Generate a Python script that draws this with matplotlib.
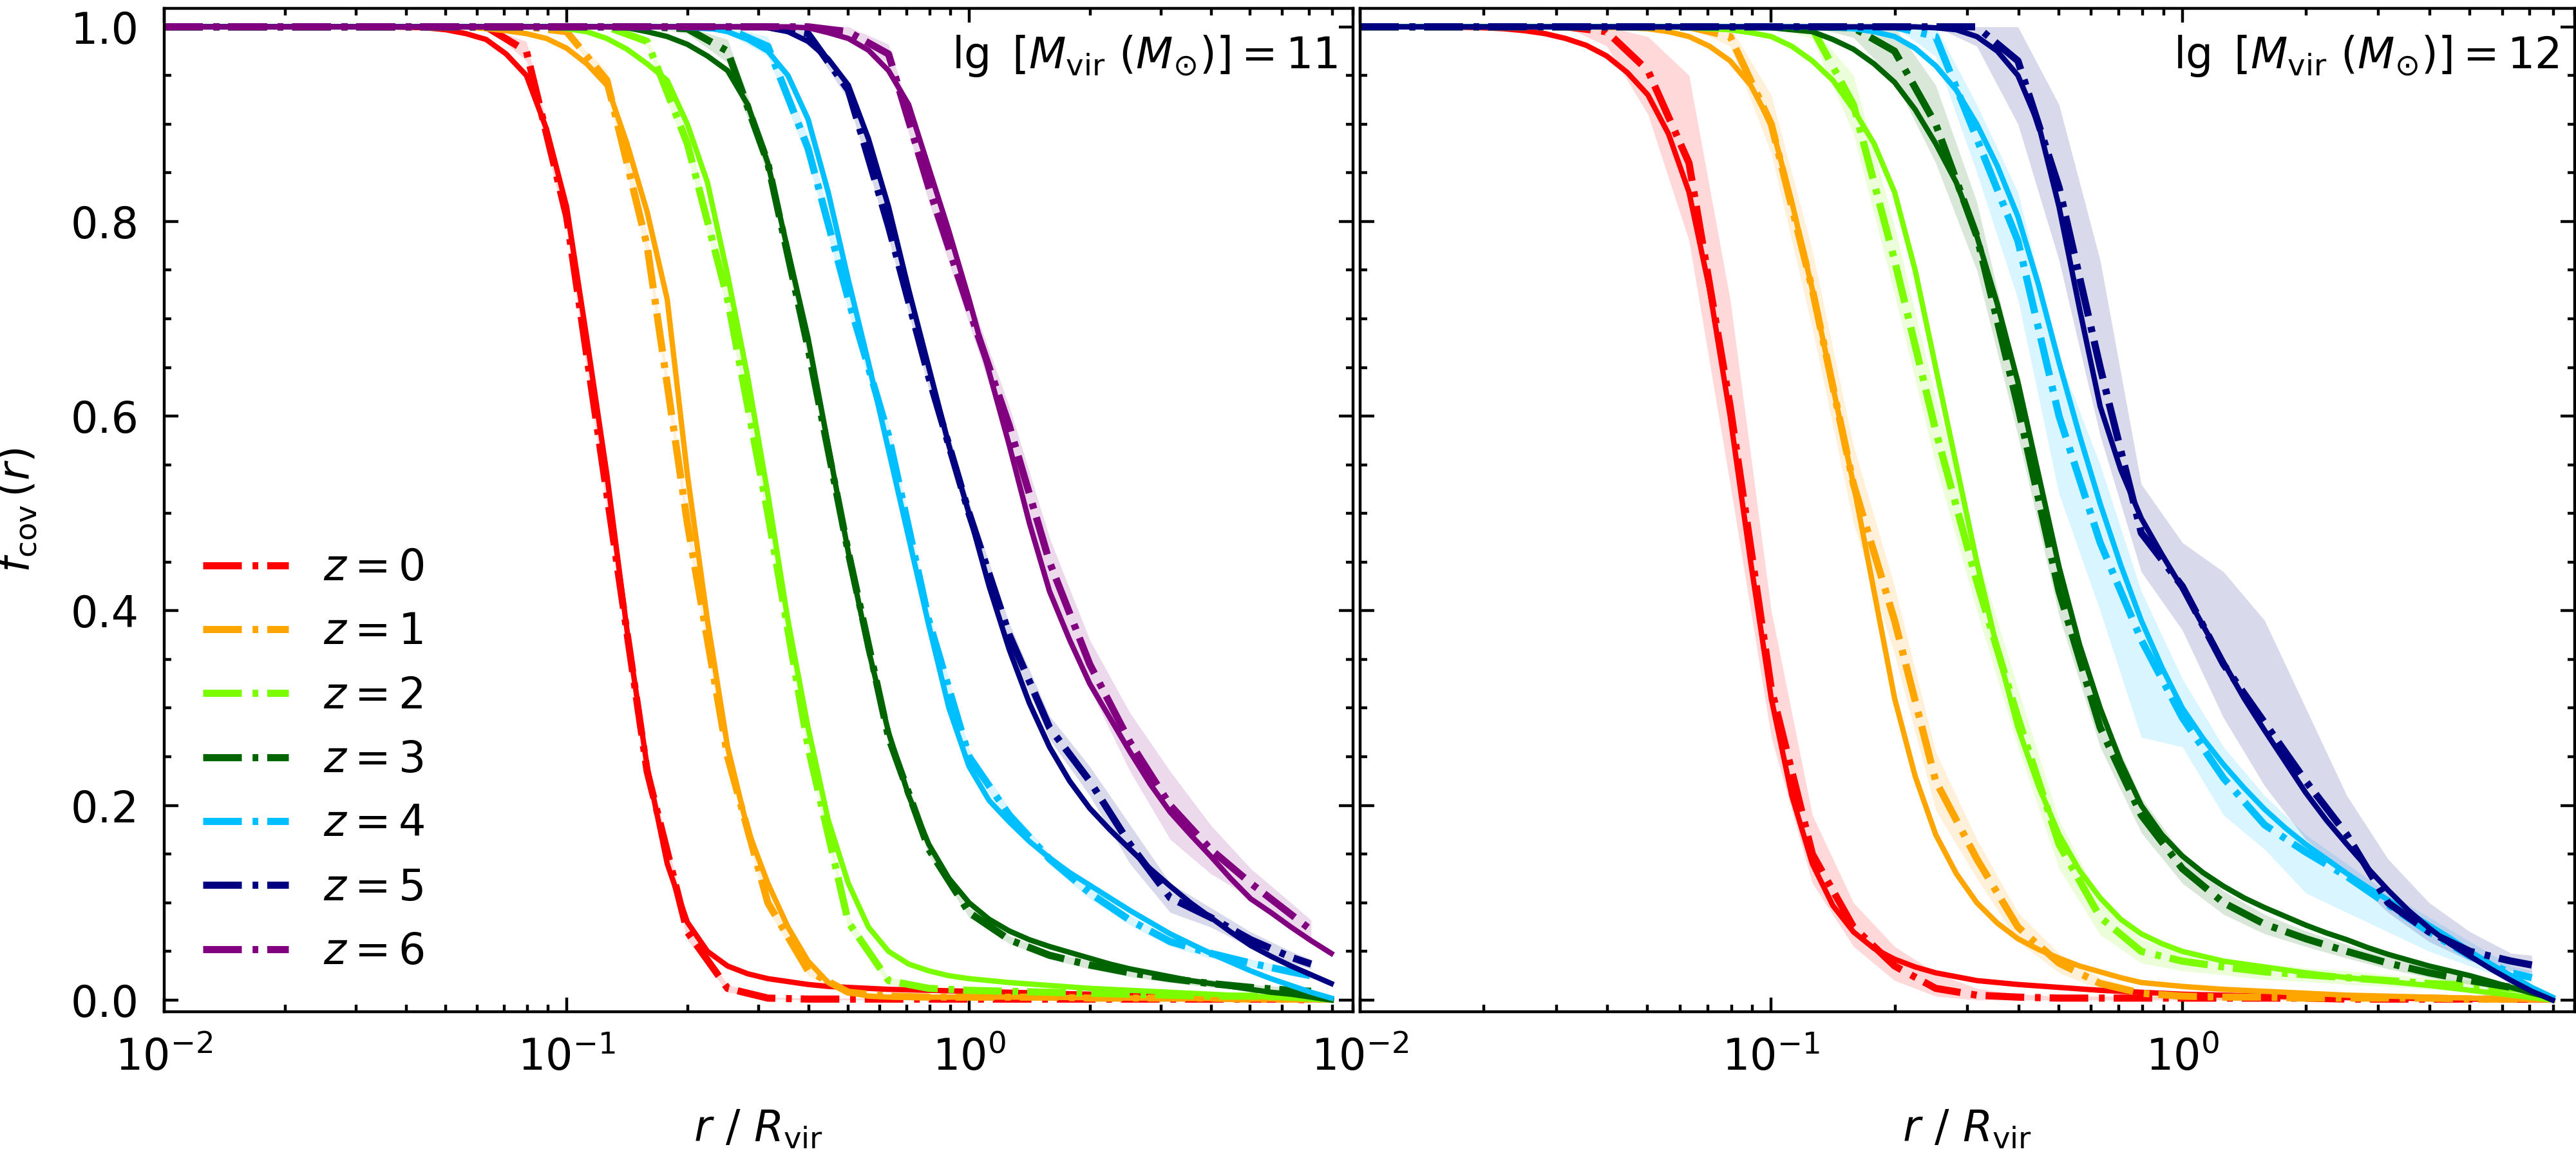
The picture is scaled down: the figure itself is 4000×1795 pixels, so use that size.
import numpy as np
import matplotlib
matplotlib.use("Agg")
import matplotlib.pyplot as plt
from matplotlib.ticker import MultipleLocator, NullFormatter

# =====================
# DATA
# =====================
# log10(r / Rvir) where the model curves were read
lg_r_fit = [-2.0, -1.95, -1.9, -1.85, -1.8, -1.75, -1.7, -1.65, -1.6, -1.55,
            -1.5, -1.45, -1.4, -1.35, -1.3, -1.25, -1.2, -1.15, -1.1, -1.05,
            -1.0, -0.95, -0.9, -0.85, -0.8, -0.75, -0.7, -0.65, -0.6, -0.55,
            -0.5, -0.45, -0.4, -0.35, -0.3, -0.25, -0.2, -0.15, -0.1, -0.05,
            0.0, 0.05, 0.1, 0.15, 0.2, 0.25, 0.3, 0.35, 0.4, 0.45,
            0.5, 0.55, 0.6, 0.65, 0.7, 0.75, 0.8, 0.85, 0.9]
# log10(r / Rvir) of the simulation bins
lg_r_sim = [-2.0, -1.9, -1.8, -1.7, -1.6, -1.5, -1.4, -1.3, -1.2, -1.1,
            -1.0, -0.9, -0.8, -0.7, -0.6, -0.5, -0.4, -0.3, -0.2, -0.1,
            0.0, 0.1, 0.2, 0.3, 0.4, 0.5, 0.6, 0.7, 0.8, 0.85]

redshifts = [0, 1, 2, 3, 4, 5, 6]
colors = ["red", "orange", "lawngreen", "darkgreen", "deepskyblue", "navy", "purple"]

# ---- lg Mvir = 11 : model (solid) ----
fit11_z0 = [1] * 12 + [0.9995, 0.999, 0.997, 0.993, 0.987, 0.972, 0.95, 0.895, 0.815, 0.68,
                       0.54, 0.38, 0.24, 0.14, 0.08, 0.05, 0.035, 0.027, 0.022, 0.019,
                       0.016, 0.014, 0.013, 0.012, 0.011, 0.0105, 0.01, 0.0095, 0.009, 0.0085,
                       0.008, 0.0075, 0.007, 0.0065, 0.006, 0.0055, 0.005, 0.0045, 0.004, 0.0035,
                       0.003, 0.0025, 0.002, 0.0015, 0.001, 0.0005, 0.0]
fit11_z1 = [1] * 16 + [0.998, 0.996, 0.993, 0.988, 0.978, 0.962, 0.94, 0.88, 0.81, 0.72,
                       0.54, 0.39, 0.26, 0.175, 0.12, 0.075, 0.04, 0.018, 0.008, 0.004] \
    + [0.003] * 9 + [0.0025, 0.0025, 0.002, 0.002, 0.002, 0.002, 0.0015, 0.0015,
                     0.001, 0.001, 0.001, 0.0005, 0.0005, 0.0]
fit11_z2 = [1] * 20 + [0.998, 0.995, 0.988, 0.977, 0.962, 0.945, 0.9, 0.84, 0.745, 0.64,
                       0.52, 0.39, 0.28, 0.185, 0.12, 0.075, 0.05, 0.037, 0.03, 0.025,
                       0.022, 0.02, 0.018, 0.0165, 0.015, 0.0135, 0.012, 0.011, 0.01, 0.009,
                       0.008, 0.007, 0.006, 0.005, 0.004, 0.003, 0.002, 0.001, 0.0]
fit11_z3 = [1] * 23 + [0.999, 0.995, 0.99, 0.982, 0.97, 0.955, 0.92, 0.86, 0.77, 0.68,
                       0.57, 0.46, 0.36, 0.275, 0.21, 0.16, 0.125, 0.1, 0.083, 0.071,
                       0.062, 0.055, 0.049, 0.043, 0.037, 0.032, 0.028, 0.024, 0.02, 0.017,
                       0.014, 0.011, 0.008, 0.006, 0.003, 0.0]
fit11_z4 = [1] * 27 + [0.999, 0.995, 0.987, 0.975, 0.95, 0.905, 0.83, 0.74, 0.655, 0.565,
                       0.475, 0.385, 0.3, 0.24, 0.205, 0.183, 0.163, 0.146, 0.131, 0.118,
                       0.105, 0.092, 0.08, 0.068, 0.058, 0.048, 0.039, 0.03, 0.022, 0.015,
                       0.008, 0.002]
fit11_z5 = [1] * 30 + [0.999, 0.995, 0.985, 0.967, 0.94, 0.885, 0.815, 0.73, 0.65, 0.57,
                       0.5, 0.425, 0.36, 0.305, 0.26, 0.225, 0.197, 0.175, 0.155, 0.135,
                       0.117, 0.1, 0.085, 0.07, 0.056, 0.045, 0.035, 0.026, 0.017]
fit11_z6 = [1] * 32 + [0.999, 0.994, 0.988, 0.976, 0.955, 0.92, 0.855, 0.79, 0.72, 0.645,
                       0.57, 0.49, 0.42, 0.37, 0.325, 0.29, 0.255, 0.222, 0.193, 0.17,
                       0.148, 0.125, 0.104, 0.09, 0.075, 0.061, 0.048]

# ---- lg Mvir = 11 : simulation (dash-dot) ----
sim11_z0 = [1] * 9 + [0.975, 0.805, 0.52, 0.235, 0.07, 0.012, 0.002] + [0.001] * 13 + [0.0]
sim11_z1 = [1] * 10 + [0.995, 0.945, 0.775, 0.49, 0.25, 0.1, 0.03, 0.008, 0.004, 0.003,
                       0.003, 0.003, 0.003, 0.002, 0.002, 0.002, 0.002, 0.001, 0.001, 0.001]
sim11_z2 = [1] * 12 + [0.985, 0.88, 0.72, 0.5, 0.26, 0.08, 0.02, 0.012,
                       0.01, 0.009, 0.008, 0.007, 0.006, 0.005, 0.004, 0.004, 0.003, 0.003]
sim11_z3 = [1] * 13 + [0.998, 0.975, 0.86, 0.67, 0.46, 0.27, 0.155,
                       0.09, 0.062, 0.046, 0.036, 0.028, 0.022, 0.017, 0.013, 0.01, 0.009]
sim11_z4 = [1] * 14 + [0.998, 0.98, 0.875, 0.72, 0.58, 0.39,
                       0.25, 0.19, 0.145, 0.11, 0.082, 0.06, 0.048, 0.038, 0.029, 0.025]
sim11_z5 = [1] * 16 + [0.993, 0.935, 0.795, 0.64,
                       0.5, 0.375, 0.28, 0.225, 0.16, 0.105, 0.085, 0.062, 0.044, 0.037]
sim11_z6 = [1] * 17 + [0.995, 0.972, 0.835,
                       0.71, 0.59, 0.45, 0.345, 0.265, 0.2, 0.155, 0.12, 0.088, 0.072]

# half width of the shaded scatter band
err11_z0 = [0] * 9 + [0.01, 0.015, 0.015, 0.012, 0.008, 0.004] + [0.001] * 15
err11_z1 = [0] * 11 + [0.01, 0.012, 0.012, 0.01, 0.008, 0.005] + [0.002] * 13
err11_z2 = [0] * 12 + [0.005, 0.012, 0.012, 0.012, 0.01, 0.007, 0.004] + [0.002] * 11
err11_z3 = [0] * 13 + [0.005, 0.012, 0.012, 0.012, 0.01, 0.008, 0.006, 0.005] + [0.004] * 6 + [0.003] * 3
err11_z4 = [0] * 14 + [0.005, 0.01, 0.012, 0.012, 0.012, 0.01, 0.008, 0.007,
                       0.006, 0.006, 0.005, 0.005, 0.005, 0.004, 0.004, 0.004]
err11_z5 = [0] * 16 + [0.005, 0.01, 0.012, 0.012, 0.012, 0.012, 0.012, 0.015,
                       0.02, 0.015, 0.01, 0.008, 0.006, 0.005]
err11_z6 = [0] * 17 + [0.005, 0.01, 0.015, 0.015, 0.02, 0.025, 0.025, 0.03,
                       0.035, 0.025, 0.015, 0.012, 0.01]

# ---- lg Mvir = 12 : model (solid) ----
fit12_z0 = [1] * 4 + [1.0, 0.9995, 0.999, 0.998, 0.996, 0.993, 0.988, 0.981, 0.97, 0.953,
                      0.93, 0.89, 0.83, 0.73, 0.6, 0.45, 0.31, 0.21, 0.14, 0.097,
                      0.07, 0.053, 0.042, 0.034, 0.028, 0.024, 0.02, 0.018, 0.016, 0.0145,
                      0.013, 0.0115, 0.01, 0.009, 0.008, 0.007, 0.006, 0.0055, 0.005, 0.0045,
                      0.004, 0.0035, 0.003, 0.0028, 0.0025, 0.0022, 0.002, 0.0018, 0.0015, 0.0012,
                      0.001, 0.0008, 0.0005, 0.0003, 0.0]
fit12_z1 = [1] * 12 + [0.9995, 0.999, 0.998, 0.995, 0.99, 0.98, 0.965, 0.94, 0.9, 0.82,
                       0.73, 0.63, 0.53, 0.42, 0.31, 0.23, 0.17, 0.13, 0.1, 0.079,
                       0.063, 0.052, 0.043, 0.035, 0.029, 0.023, 0.018, 0.016, 0.014, 0.0125,
                       0.011, 0.01, 0.009, 0.008, 0.007, 0.006, 0.005, 0.0045, 0.004, 0.0035,
                       0.003, 0.0025, 0.002, 0.0015, 0.001, 0.0005, 0.0]
fit12_z2 = [1] * 16 + [0.999, 0.998, 0.997, 0.994, 0.99, 0.98, 0.965, 0.945, 0.915, 0.88,
                       0.83, 0.75, 0.65, 0.55, 0.45, 0.36, 0.28, 0.22, 0.17, 0.133,
                       0.105, 0.083, 0.068, 0.058, 0.05, 0.045, 0.04, 0.037, 0.034, 0.031,
                       0.028, 0.0255, 0.023, 0.021, 0.019, 0.017, 0.015, 0.0125, 0.01, 0.0075,
                       0.005, 0.0025, 0.0]
fit12_z3 = [1] * 20 + [0.999, 0.997, 0.995, 0.987, 0.977, 0.962, 0.943, 0.915, 0.88, 0.84,
                       0.785, 0.715, 0.635, 0.54, 0.445, 0.365, 0.3, 0.245, 0.2, 0.17,
                       0.148, 0.131, 0.117, 0.105, 0.095, 0.086, 0.077, 0.069, 0.062, 0.054,
                       0.047, 0.041, 0.035, 0.03, 0.025, 0.019, 0.013, 0.007, 0.002]
fit12_z4 = [1] * 23 + [0.999, 0.998, 0.995, 0.99, 0.978, 0.96, 0.935, 0.9, 0.857, 0.805,
                       0.735, 0.655, 0.58, 0.51, 0.447, 0.39, 0.342, 0.3, 0.269, 0.242,
                       0.218, 0.196, 0.177, 0.16, 0.145, 0.13, 0.116, 0.103, 0.09, 0.077,
                       0.064, 0.05, 0.037, 0.025, 0.013, 0.003]
fit12_z5 = [1] * 27 + [1.0, 0.999, 0.997, 0.99, 0.975, 0.95, 0.9, 0.815, 0.71, 0.61,
                       0.545, 0.495, 0.458, 0.423, 0.385, 0.347, 0.31, 0.277, 0.245, 0.213,
                       0.185, 0.16, 0.136, 0.113, 0.092, 0.074, 0.058, 0.045, 0.032, 0.02,
                       0.009, 0.0]

# ---- lg Mvir = 12 : simulation (dash-dot) ----
sim12_z0 = [1] * 6 + [0.995, 0.955, 0.86, 0.61, 0.32, 0.15, 0.075, 0.035, 0.012, 0.005, 0.003] \
    + [0.002] * 7 + [0.001] * 6
sim12_z1 = [1] * 9 + [0.99, 0.9, 0.73, 0.53, 0.39, 0.225, 0.145, 0.075, 0.038, 0.017, 0.007,
                      0.004, 0.003, 0.003, 0.002, 0.002, 0.002, 0.002, 0.001, 0.001, 0.001]
sim12_z2 = [1] * 11 + [0.998, 0.92, 0.76, 0.585, 0.43, 0.29, 0.16, 0.085, 0.05,
                       0.04, 0.034, 0.029, 0.026, 0.023, 0.02, 0.017, 0.015, 0.012, 0.01]
sim12_z3 = [1] * 12 + [0.999, 0.975, 0.9, 0.785, 0.61, 0.42, 0.28, 0.19,
                       0.135, 0.1, 0.078, 0.063, 0.05, 0.038, 0.028, 0.02, 0.013, 0.01]
sim12_z4 = [1] * 14 + [0.99, 0.885, 0.78, 0.6, 0.47, 0.37,
                       0.29, 0.228, 0.18, 0.152, 0.127, 0.098, 0.07, 0.045, 0.028, 0.023]
sim12_z5 = [1] * 16 + [0.965, 0.835, 0.65, 0.48,
                       0.425, 0.345, 0.285, 0.225, 0.17, 0.1, 0.07, 0.05, 0.04, 0.036]

err12_z1 = [0] * 9 + [0.01, 0.03, 0.04, 0.04, 0.035, 0.03, 0.02, 0.015, 0.01, 0.006, 0.004] + [0.003] * 10
err12_z2 = [0] * 11 + [0.01, 0.03, 0.035, 0.035, 0.03, 0.03, 0.025, 0.018, 0.012,
                       0.01, 0.008, 0.008, 0.007, 0.007, 0.006, 0.006, 0.005, 0.005, 0.005]
err12_z3 = [0] * 12 + [0.01, 0.03, 0.04, 0.035, 0.03, 0.025, 0.02, 0.018,
                       0.015, 0.012, 0.01, 0.008, 0.007, 0.006, 0.005, 0.004, 0.004, 0.003]

band12_z0_lo = [1] * 6 + [0.98, 0.91, 0.78, 0.53, 0.27, 0.12, 0.055, 0.02, 0.004] + [0.0] * 15
band12_z0_hi = [1] * 7 + [0.99, 0.95, 0.72, 0.4, 0.19, 0.1, 0.055, 0.028, 0.012, 0.006] \
    + [0.004] * 7 + [0.003] * 6
band12_z4_lo = [1] * 14 + [0.97, 0.85, 0.72, 0.52, 0.4, 0.27,
                           0.26, 0.19, 0.155, 0.11, 0.09, 0.07, 0.05, 0.035, 0.02, 0.018]
band12_z4_hi = [1] * 15 + [0.92, 0.83, 0.66, 0.55, 0.42,
                           0.33, 0.26, 0.21, 0.17, 0.14, 0.11, 0.085, 0.06, 0.035, 0.03]
band12_z5_lo = [1] * 15 + [0.98, 0.9, 0.76, 0.58, 0.44,
                           0.38, 0.29, 0.22, 0.165, 0.13, 0.09, 0.06, 0.04, 0.03, 0.028]
band12_z5_hi = [1] * 16 + [1.0, 0.92, 0.76, 0.53,
                           0.47, 0.44, 0.39, 0.3, 0.21, 0.145, 0.1, 0.07, 0.048, 0.046]

panel_labels = [r"$\lg\ [M_{\rm vir}\ (M_{\odot})] = 11$",
                r"$\lg\ [M_{\rm vir}\ (M_{\odot})] = 12$"]

# =====================
# PLOTTING
# =====================
plt.rcParams["font.family"] = ["DejaVu Sans"]
plt.rcParams["mathtext.fontset"] = "dejavusans"

SIM_LS = (0, (5.4, 1.5, 0.8, 1.25))


def band(lo, hi):
    return np.clip(lo, 0, 1), np.clip(hi, 0, 1)


def setup_axis(ax, show_ylabels):
    ax.set_xscale("log")
    ax.set_xlim(0.01, 9.0)
    ax.set_ylim(-0.012, 1.019)
    ax.yaxis.set_major_locator(MultipleLocator(0.2))
    ax.yaxis.set_minor_locator(MultipleLocator(0.05))
    ax.xaxis.set_minor_formatter(NullFormatter())
    ax.tick_params(which="both", direction="in", top=True, right=True,
                   labelsize=12, pad=7)
    ax.tick_params(which="major", length=4, width=0.8)
    ax.tick_params(which="minor", length=2, width=0.8)
    if not show_ylabels:
        ax.set_yticklabels([])
    ax.set_xlabel(r"$r\ /\ R_{\rm vir}$", fontsize=12, labelpad=8)


fig = plt.figure(figsize=(10, 4.4875), dpi=400)
ax1 = fig.add_axes([0.06375, 0.1248, 0.4615, 0.868])
ax2 = fig.add_axes([0.528, 0.1248, 0.4715, 0.868])

r_fit = 10 ** np.array(lg_r_fit)
r_sim = 10 ** np.array(lg_r_sim)

# left panel: lg Mvir = 11
fits11 = [fit11_z0, fit11_z1, fit11_z2, fit11_z3, fit11_z4, fit11_z5, fit11_z6]
sims11 = [sim11_z0, sim11_z1, sim11_z2, sim11_z3, sim11_z4, sim11_z5, sim11_z6]
errs11 = [err11_z0, err11_z1, err11_z2, err11_z3, err11_z4, err11_z5, err11_z6]
for z, c, f, s, e in zip(redshifts, colors, fits11, sims11, errs11):
    s = np.array(s)
    e = np.array(e)
    lo, hi = band(s - e, s + e)
    ax1.fill_between(r_sim, lo, hi, color=c, alpha=0.15, lw=0)
    ax1.plot(r_fit, f, color=c, lw=1.5, ls="-")
    ax1.plot(r_sim, s, color=c, lw=2.0, ls=SIM_LS, label=r"$z = %d$" % z)

# right panel: lg Mvir = 12
fits12 = [fit12_z0, fit12_z1, fit12_z2, fit12_z3, fit12_z4, fit12_z5]
sims12 = [sim12_z0, sim12_z1, sim12_z2, sim12_z3, sim12_z4, sim12_z5]
bands12 = [
    (band12_z0_lo, band12_z0_hi),
    (np.array(sim12_z1) - np.array(err12_z1), np.array(sim12_z1) + np.array(err12_z1)),
    (np.array(sim12_z2) - np.array(err12_z2), np.array(sim12_z2) + np.array(err12_z2)),
    (np.array(sim12_z3) - np.array(err12_z3), np.array(sim12_z3) + np.array(err12_z3)),
    (band12_z4_lo, band12_z4_hi),
    (band12_z5_lo, band12_z5_hi),
]
for z, c, f, s, (lo, hi) in zip(redshifts, colors, fits12, sims12, bands12):
    lo, hi = band(np.array(lo, float), np.array(hi, float))
    ax2.fill_between(r_sim, lo, hi, color=c, alpha=0.15, lw=0)
    ax2.plot(r_fit, f, color=c, lw=1.5, ls="-")
    ax2.plot(r_sim, s, color=c, lw=2.0, ls=SIM_LS)

setup_axis(ax1, True)
setup_axis(ax2, False)
ax1.set_ylabel(r"$f_{\rm cov}\,(r)$", fontsize=12, labelpad=9)

for ax, txt in zip([ax1, ax2], panel_labels):
    ax.text(0.987, 0.975, txt, transform=ax.transAxes, ha="right", va="top",
            fontsize=12)

ax1.legend(loc="lower left", frameon=False, fontsize=12, handlelength=2.0,
           labelspacing=0.5)

fig.savefig("out.png", dpi=400)
